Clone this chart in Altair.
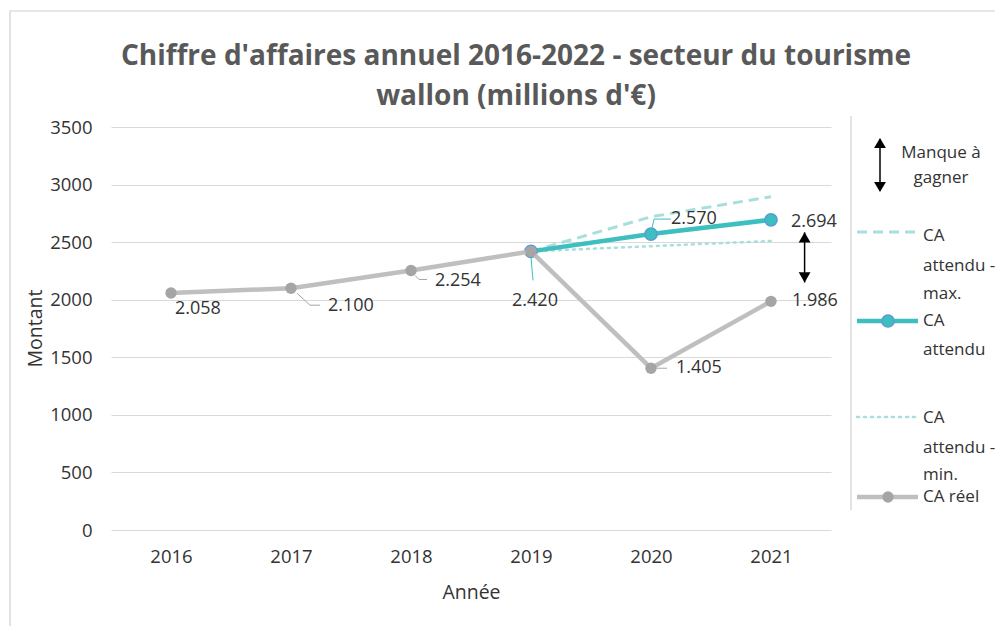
import altair as alt
import pandas as pd

# ---- data ----
years = [2016, 2017, 2018, 2019, 2020, 2021]
ca_reel = [2058, 2100, 2254, 2420, 1405, 1986]
years_exp = [2019, 2020, 2021]
ca_attendu = [2420, 2570, 2694]
ca_attendu_max = [2420, 2720, 2895]
ca_attendu_min = [2420, 2465, 2510]
labels_reel = ["2.058", "2.100", "2.254", "2.420", "1.405", "1.986"]
labels_attendu = ["2.570", "2.694"]
gap_year = [2021.28]
gap_top = [2585]
gap_bottom = [2150]
y_ticks = [0, 500, 1000, 1500, 2000, 2500, 3000, 3500]
title_lines = ["Chiffre d'affaires annuel 2016-2022 - secteur du tourisme", "wallon (millions d'€)"]

FONT = "Open Sans"
TEAL = "#3DBFC0"
TEAL_LIGHT = "#A7DFDD"
GRAY = "#BFBFBF"
GRAY_MK = "#A5A5A5"
TXT = "#333333"
AX = "#595959"

df_reel = pd.DataFrame({"year": years, "value": ca_reel, "label": labels_reel})
df_exp = pd.DataFrame({"year": years_exp, "value": ca_attendu})
df_max = pd.DataFrame({"year": years_exp, "value": ca_attendu_max})
df_min = pd.DataFrame({"year": years_exp, "value": ca_attendu_min})
df_exp_lab = pd.DataFrame({"year": years_exp[1:], "value": ca_attendu[1:], "label": labels_attendu})
df_gap = pd.DataFrame({"year": gap_year, "top": gap_top, "bottom": gap_bottom})
one = pd.DataFrame({"k": [0]})

xsc = alt.Scale(domain=[2015.5, 2021.5], nice=False, zero=False)
ysc = alt.Scale(domain=[0, 3500], nice=False)

X = alt.X("year:Q", scale=xsc, axis=alt.Axis(
    values=years, format="d", title="Année", grid=False, domain=False, ticks=False,
    labelFont=FONT, labelFontSize=18.5, labelColor=TXT, labelPadding=17,
    titleFont=FONT, titleFontSize=19.5, titleColor=TXT, titleFontWeight="normal",
    titleY=62, titleBaseline="middle"))
Y = alt.Y("value:Q", scale=ysc, axis=alt.Axis(
    values=y_ticks, format="d", title="Montant", grid=True, gridColor="#D9D9D9", domain=False, ticks=False,
    labelFont=FONT, labelFontSize=18.5, labelColor=TXT, labelPadding=19,
    titleFont=FONT, titleFontSize=19.5, titleColor=TXT, titleFontWeight="normal",
    titleX=-76, titleY=201, titleBaseline="middle", titleAngle=-90))

xn = alt.X("year:Q", scale=xsc)
yn = alt.Y("value:Q", scale=ysc)

layers = []

# outer chart border
layers.append(alt.Chart(one).mark_rect(fill=None, stroke="#D0D0D0", strokeWidth=1.2).encode(
    x=alt.value(-101), x2=alt.value(1000), y=alt.value(-116), y2=alt.value(700)))

# base with axes
layers.append(alt.Chart(df_reel).mark_line(opacity=0).encode(x=X, y=Y))

# expected max / min
layers.append(alt.Chart(df_max).mark_line(color=TEAL_LIGHT, strokeWidth=3, strokeDash=[10, 6]).encode(x=xn, y=yn))
layers.append(alt.Chart(df_min).mark_line(color=TEAL_LIGHT, strokeWidth=2.5, strokeDash=[2, 5], strokeCap="round").encode(x=xn, y=yn))
# expected
layers.append(alt.Chart(df_exp).mark_line(color=TEAL, strokeWidth=4.5).encode(x=xn, y=yn))
layers.append(alt.Chart(df_exp).mark_point(filled=True, fill=TEAL, stroke="#5B9BD5", strokeWidth=1.5, size=150, opacity=1).encode(x=xn, y=yn))
# actual
layers.append(alt.Chart(df_reel).mark_line(color=GRAY, strokeWidth=4.5).encode(x=xn, y=yn))
layers.append(alt.Chart(df_reel).mark_point(filled=True, color=GRAY_MK, size=130, opacity=1).encode(x=xn, y=yn))

# leader lines: (year, source df, color, segments)
leaders = [
    (2017, df_reel, "#A6A6A6", [(6, 5, 19, 17), (19, 17, 29, 17)]),
    (2018, df_reel, "#A6A6A6", [(4, 5, 8, 9), (8, 9, 16, 9)]),
    (2019, df_reel, TEAL, [(0, 6, 2, 29)]),
    (2020, df_reel, "#A6A6A6", [(6, 0, 16, 0)]),
    (2020, df_exp, TEAL, [(1, -6, 3, -15), (3, -15, 20, -15)]),
]
for yr, d, col, segs in leaders:
    for (a, b, c, e) in segs:
        layers.append(alt.Chart(d).transform_filter(alt.datum.year == yr).mark_rule(
            color=col, strokeWidth=1, xOffset=a, yOffset=b, x2Offset=c, y2Offset=e).encode(
            x=xn, y=yn, x2="year:Q", y2="value:Q"))

# data labels
LFS = 18
lab_style = {
    2016: ("left", 4, 16), 2017: ("left", 37, 18), 2018: ("left", 24, 11),
    2019: ("center", 4, 50), 2020: ("left", 25, 0), 2021: ("left", 21, 0),
}
for yr, (al, dx, dy) in lab_style.items():
    layers.append(alt.Chart(df_reel).transform_filter(alt.datum.year == yr).mark_text(
        align=al, baseline="middle", dx=dx, dy=dy, font=FONT, fontSize=LFS, color=TXT).encode(
        x=xn, y=yn, text="label:N"))
exp_style = {2020: ("left", 20, -15), 2021: ("left", 20, 2)}
for yr, (al, dx, dy) in exp_style.items():
    layers.append(alt.Chart(df_exp_lab).transform_filter(alt.datum.year == yr).mark_text(
        align=al, baseline="middle", dx=dx, dy=dy, font=FONT, fontSize=LFS, color=TXT).encode(
        x=xn, y=yn, text="label:N"))

# gap arrow (manque à gagner)
layers.append(alt.Chart(df_gap).mark_rule(color="black", strokeWidth=1.5).encode(
    x=xn, y=alt.Y("top:Q", scale=ysc), y2="bottom:Q"))
layers.append(alt.Chart(df_gap).mark_point(shape="triangle-up", filled=True, color="black", size=140, opacity=1, yOffset=5).encode(
    x=xn, y=alt.Y("top:Q", scale=ysc)))
layers.append(alt.Chart(df_gap).mark_point(shape="triangle-down", filled=True, color="black", size=140, opacity=1, yOffset=-5).encode(
    x=xn, y=alt.Y("bottom:Q", scale=ysc)))

# title
for t, yy in zip(title_lines, [-62, -22]):
    layers.append(alt.Chart(one).mark_text(text=t, font=FONT, fontSize=28, fontWeight="bold", color=AX,
                                           align="center", baseline="alphabetic").encode(
        x=alt.value(405), y=alt.value(yy)))

# legend
layers.append(alt.Chart(one).mark_rule(color="#D0D0D0", strokeWidth=1.2).encode(
    x=alt.value(740), y=alt.value(-11), y2=alt.value(383)))
layers.append(alt.Chart(one).mark_rule(color="black", strokeWidth=1.5).encode(
    x=alt.value(769), y=alt.value(12), y2=alt.value(64)))
layers.append(alt.Chart(one).mark_point(shape="triangle-up", filled=True, color="black", size=140, opacity=1).encode(
    x=alt.value(769), y=alt.value(16)))
layers.append(alt.Chart(one).mark_point(shape="triangle-down", filled=True, color="black", size=140, opacity=1).encode(
    x=alt.value(769), y=alt.value(60)))

leg_text = [("Manque à", 830, 26, "center"), ("gagner", 830, 51, "center"),
            ("CA", 812, 109, "left"), ("attendu -", 812, 139, "left"), ("max.", 812, 167, "left"),
            ("CA", 812, 194, "left"), ("attendu", 812, 223, "left"),
            ("CA", 812, 291, "left"), ("attendu -", 812, 321, "left"), ("min.", 812, 348, "left"),
            ("CA réel", 812, 370, "left")]
for t, xx, yy, al in leg_text:
    layers.append(alt.Chart(one).mark_text(text=t, font=FONT, fontSize=17, color=TXT, align=al, baseline="middle").encode(
        x=alt.value(xx), y=alt.value(yy)))

layers.append(alt.Chart(one).mark_rule(color=TEAL_LIGHT, strokeWidth=3, strokeDash=[10, 6]).encode(
    x=alt.value(746), x2=alt.value(807), y=alt.value(105)))
layers.append(alt.Chart(one).mark_rule(color=TEAL, strokeWidth=4.5).encode(
    x=alt.value(746), x2=alt.value(807), y=alt.value(194)))
layers.append(alt.Chart(one).mark_point(filled=True, fill=TEAL, stroke="#5B9BD5", strokeWidth=1.5, size=150, opacity=1).encode(
    x=alt.value(777), y=alt.value(194)))
layers.append(alt.Chart(one).mark_rule(color=TEAL_LIGHT, strokeWidth=2.5, strokeDash=[2, 5], strokeCap="round").encode(
    x=alt.value(746), x2=alt.value(807), y=alt.value(290)))
layers.append(alt.Chart(one).mark_rule(color=GRAY, strokeWidth=4.5).encode(
    x=alt.value(746), x2=alt.value(807), y=alt.value(370)))
layers.append(alt.Chart(one).mark_point(filled=True, color=GRAY_MK, size=130, opacity=1).encode(
    x=alt.value(777), y=alt.value(370)))

chart = alt.layer(*layers).properties(
    width=720, height=403,
    autosize=alt.AutoSizeParams(type="none"),
    padding={"left": 103, "top": 119, "right": 164, "bottom": 96},
    background="white",
).configure_view(stroke=None)

chart.save("out.html", embed_options={"renderer": "svg", "actions": False})
